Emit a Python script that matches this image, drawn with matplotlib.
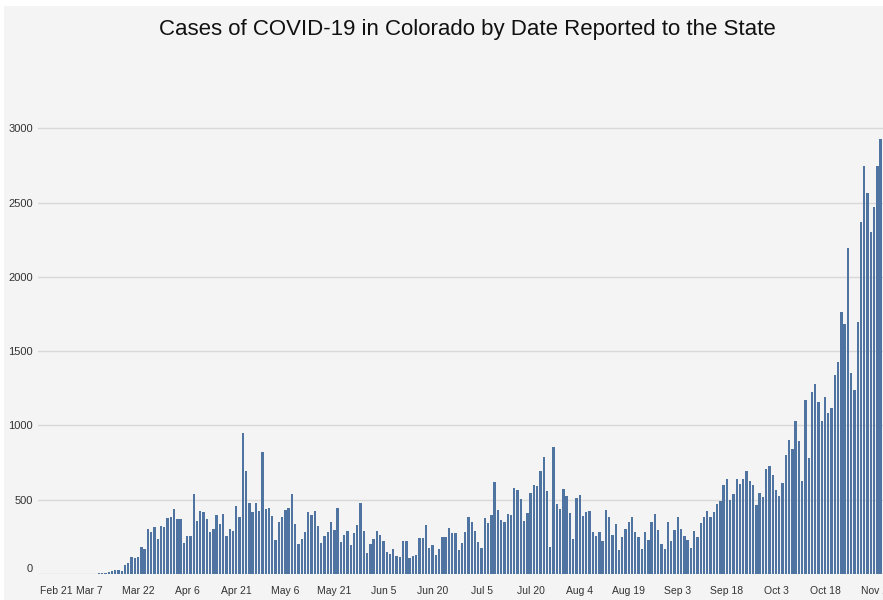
import matplotlib
matplotlib.use('Agg')
import matplotlib.pyplot as plt
import numpy as np
from matplotlib.patches import Rectangle

plt.rcParams['font.family'] = ['Liberation Sans', 'DejaVu Sans']

# daily reported cases, one value per day starting Feb 21
cases = [0, 0, 0, 0, 0, 0, 0, 0, 0, 0, 0, 0, 0, 2, 0, 3, 1, 2, 5,
         9, 4, 15, 22, 27, 27, 20, 58, 73, 113, 109, 113, 184, 167, 304, 284, 313, 233, 320, 316,
         378, 384, 436, 371, 371, 211, 258, 253, 538, 356, 427, 418,
         369, 280, 300, 400, 338, 407, 258, 304, 287, 458, 382, 951, 693, 480, 418, 480, 427, 824,
         438, 444, 393, 229, 353, 382, 431, 447, 538, 338, 204, 233, 284, 418,
         396, 424, 320, 211, 256, 280, 353, 298, 447, 218, 262, 291, 193, 273, 331, 476, 291, 142,
         200, 233, 291, 262, 222, 147, 136, 171, 120, 113, 222, 222, 109, 124,
         131, 240, 240, 331, 173, 193, 131, 171, 247, 247, 309, 278, 273, 160, 211, 280, 382, 353,
         287, 218, 178, 378, 342, 396, 620, 433, 362, 353, 404, 400, 578, 567,
         504, 356, 413, 544, 600, 589, 693, 784, 560, 182, 853, 469, 440, 571, 527, 411, 233, 509,
         531, 393, 418, 424, 280, 258, 280, 222, 433, 382, 262, 338, 160, 251,
         300, 347, 382, 284, 251, 171, 284, 229, 349, 404, 298, 204, 171, 349, 222, 298, 382, 302,
         258, 229, 178, 291, 247, 342, 382, 424, 382, 418, 473, 489, 600,
         640, 498, 538, 641, 603, 637, 693, 624, 597, 462, 545, 516, 704, 729, 666, 565, 527, 612,
         799, 902, 839, 1030, 897, 626, 1169, 781, 1222, 1279, 1156,
         1030, 1189, 1081, 1117, 1337, 1424, 1765, 1680, 2191, 1355, 1238, 1693, 2366, 2745, 2566,
         2304, 2472, 2745, 2925]

date_labels = ['Feb 21', 'Mar 7', 'Mar 22', 'Apr 6', 'Apr 21', 'May 6', 'May 21', 'Jun 5',
               'Jun 20', 'Jul 5', 'Jul 20', 'Aug 4', 'Aug 19', 'Sep 3', 'Sep 18', 'Oct 3',
               'Oct 18', 'Nov 2']
y_ticks = [0, 500, 1000, 1500, 2000, 2500, 3000]

W, H = 883, 600
fig = plt.figure(figsize=(W / 100, H / 100), dpi=100, facecolor='white')
# grey chart background with a thin white margin top/left
fig.patches.append(Rectangle((4 / W, 0), 1, (H - 6) / H, transform=fig.transFigure,
                             facecolor='#f4f4f4', edgecolor='none', zorder=-10))

px_day = 3.271
x0 = 40 - 0.5 * px_day
ymax = 3200
ax = fig.add_axes([x0 / W, 26 / H, (W - x0) / W, ymax * (74.3 / 500) / H])
ax.set_facecolor('none')

days = np.arange(len(cases))
ax.bar(days, cases, width=0.72, color='#4f74a1', edgecolor='none', zorder=2)

ax.set_xlim(-0.5, (W - x0) / px_day - 0.5)
ax.set_ylim(0, ymax)

ax.set_yticks(y_ticks)
ax.set_yticklabels([str(v) for v in y_ticks], fontsize=8, color='#333333')
ax.yaxis.grid(True, color='#d8d8d8', linewidth=1, zorder=0)
ax.set_axisbelow(True)
ax.tick_params(axis='y', length=0, pad=4)
ax.get_yticklabels()[0].set_va('bottom')

ax.set_xticks(np.arange(0, 15 * len(date_labels), 15))
ax.set_xticklabels(date_labels, fontsize=7.5, color='#333333')
ax.tick_params(axis='x', length=0, pad=9)
ax.get_xticklabels()[0].set_ha('left')
ax.get_xticklabels()[0].set_x(0.5)

for s in ax.spines.values():
    s.set_visible(False)

fig.text(467 / W, 1 - 29 / H, 'Cases of COVID-19 in Colorado by Date Reported to the State',
         ha='center', va='center', fontsize=16, color='#111111')

fig.savefig('out.png', dpi=100, facecolor=fig.get_facecolor())
